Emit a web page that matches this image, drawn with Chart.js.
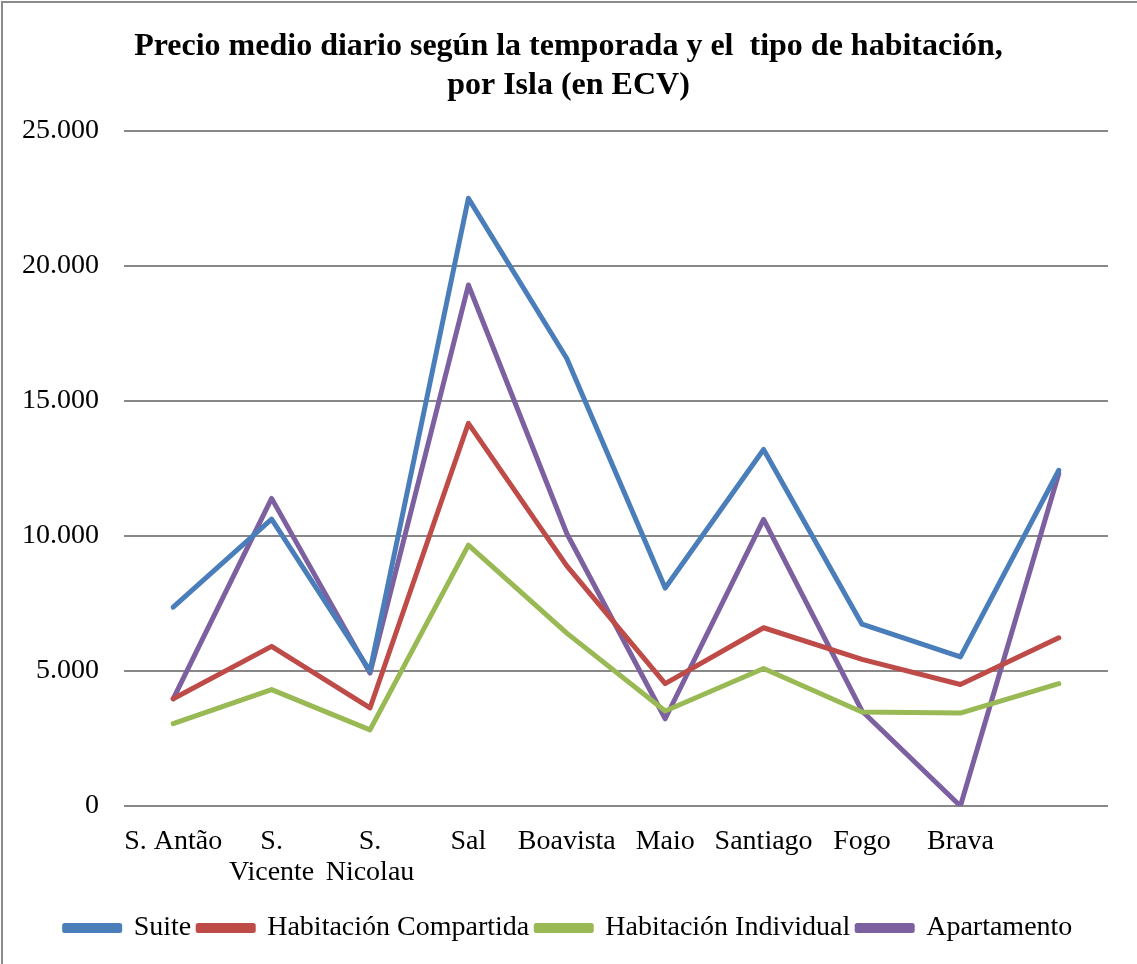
<!DOCTYPE html>
<html>
<head>
<meta charset="utf-8">
<script src="https://cdn.jsdelivr.net/npm/chart.js@4"></script>
<style>
  html, body { margin: 0; padding: 0; background: #fff; }
  #wrap { position: absolute; left: 0; top: 0; width: 1137px; height: 964px; }
  #frame { position: absolute; left: 1px; top: 1px; width: 1150px; height: 980px; border: 2px solid #8a8a8a; box-sizing: border-box; pointer-events: none; }
</style>
</head>
<body>
<div id="wrap">
  <canvas id="c" width="1137" height="964"></canvas>
  <div id="frame"></div>
</div>
<script>
const categories = ["S. Antão", ["S.", "Vicente"], ["S.", "Nicolau"], "Sal", "Boavista", "Maio", "Santiago", "Fogo", "Brava", ""];
const suite = [7360, 10620, 5000, 22500, 16570, 8070, 13200, 6730, 5520, 12430];
const compartida = [3970, 5910, 3630, 14170, 8890, 4530, 6600, 5430, 4500, 6230];
const individual = [3050, 4310, 2820, 9660, 6400, 3520, 5090, 3480, 3440, 4530];
const apartamento = [3970, 11390, 4920, 19290, 10090, 3230, 10610, 3520, 0, 12310];
const yTicks = [0, 5000, 10000, 15000, 20000, 25000];
const titleLines = ["Precio medio diario según la temporada y el  tipo de habitación,", "por Isla (en ECV)"];

const serif = "Liberation Serif";
function fmt(v) { return v === 0 ? "0" : v.toLocaleString("de-DE"); }

function ds(label, data, color) {
  return { label, data, borderColor: color, backgroundColor: color, borderWidth: 5,
           pointRadius: 0, pointHoverRadius: 0, tension: 0, fill: false, borderJoinStyle: 'round', borderCapStyle: 'round' };
}

new Chart(document.getElementById('c'), {
  type: 'line',
  data: {
    labels: categories,
    datasets: [
      ds("Suite", suite, "#4A7EBB"),
      ds("Habitación Compartida", compartida, "#BE4B48"),
      ds("Habitación Individual", individual, "#98B954"),
      ds("Apartamento", apartamento, "#7D60A0")
    ]
  },
  options: {
    responsive: false,
    animation: false,
    events: [],
    layout: { padding: { left: 0, right: 0, top: 0, bottom: 12 } },
    plugins: {
      title: {
        display: true, text: titleLines, color: '#000',
        font: { family: serif, size: 32, weight: 'bold', lineHeight: 1.2 },
        padding: { top: 28, bottom: 26 }
      },
      legend: {
        position: 'bottom',
        labels: {
          color: '#000', font: { family: serif, size: 28 },
          boxWidth: 55, boxHeight: 5, padding: 7
        }
      },
      tooltip: { enabled: false }
    },
    scales: {
      x: {
        offset: true,
        grid: { display: false, drawTicks: false },
        border: { display: false },
        ticks: { color: '#000', font: { family: serif, size: 28, lineHeight: 1.1 }, maxRotation: 0, autoSkip: false, padding: 20 },
        afterFit(s) { s.height = 101; }
      },
      y: {
        min: 0, max: 25000,
        afterBuildTicks(s) { s.ticks = yTicks.map(v => ({ value: v })); },
        grid: { color: '#888888', lineWidth: 2, drawTicks: false },
        border: { display: false },
        ticks: { color: '#000', font: { family: serif, size: 28 }, padding: 25, callback: v => fmt(v) },
        afterFit(s) { s.width = 124; }
      },
      yRight: {
        position: 'right', min: 0, max: 25000,
        grid: { display: false, drawTicks: false },
        border: { display: false },
        ticks: { display: false },
        afterFit(s) { s.width = 29; }
      }
    }
  }
});
</script>
</body>
</html>
